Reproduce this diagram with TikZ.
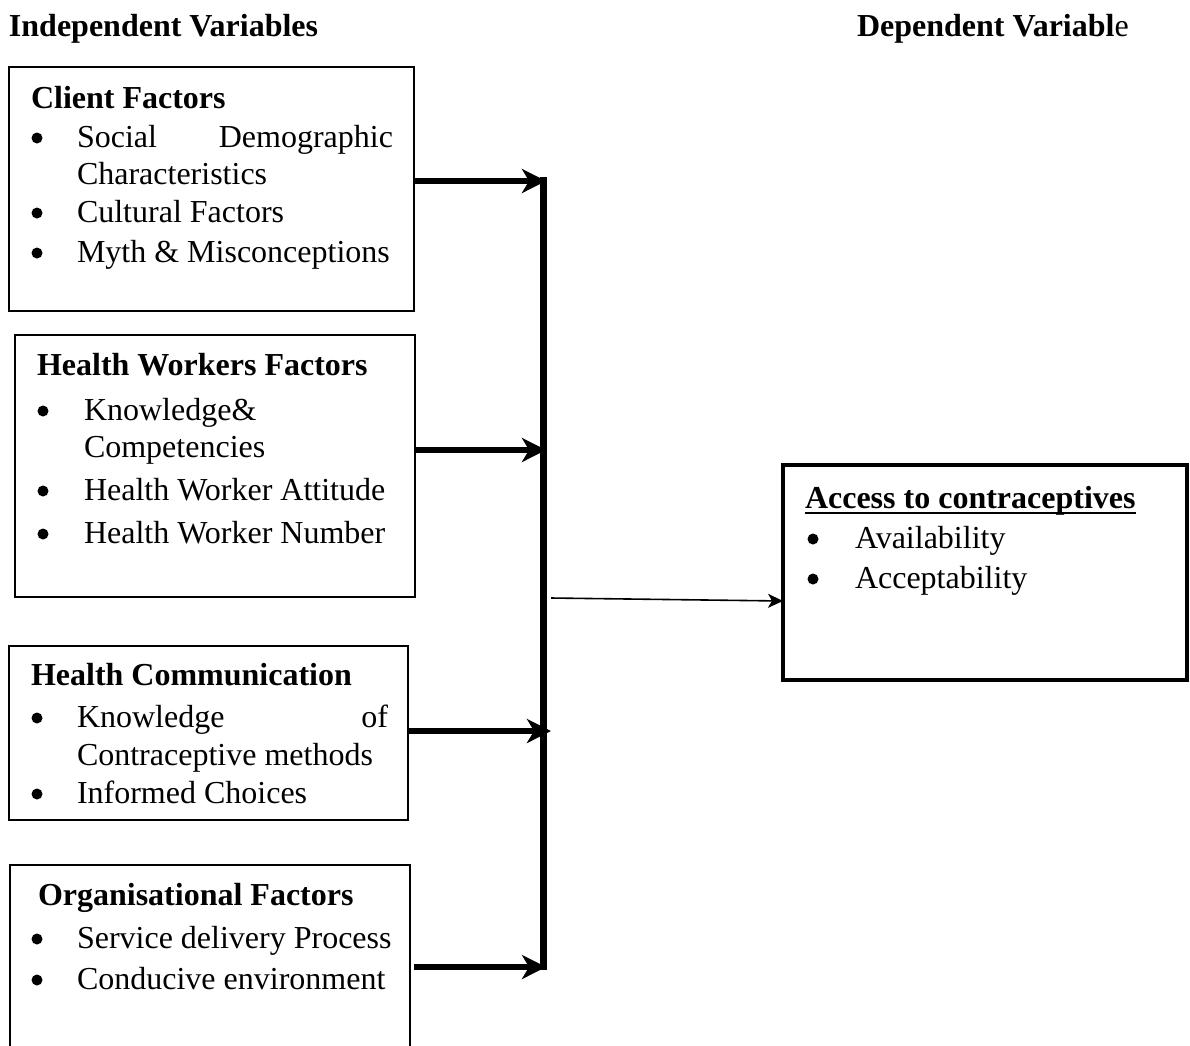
\documentclass[tikz,border=0pt]{standalone}
\usepackage{fontspec}
\setmainfont{Liberation Serif}
\usetikzlibrary{arrows.meta}
\begin{document}
\begin{tikzpicture}[x=1pt,y=-1pt,
  every node/.style={inner sep=0pt,outer sep=0pt,font=\fontsize{32}{38}\selectfont},
  hdr/.style={anchor=base west,font=\fontsize{32}{38}\selectfont\bfseries},
  ttl/.style={anchor=base west,font=\fontsize{32}{38}\selectfont\bfseries},
  itm/.style={anchor=base west},
  itmr/.style={anchor=base east},
  bul/.style={circle,fill=black,minimum size=11pt,yshift=9pt},
  fbox/.style={draw,line width=1.4pt,anchor=north west},
  dbox/.style={draw,line width=4pt,anchor=north west},
  thick arrow/.style={line width=6.5pt,-{Stealth[length=24pt,width=24pt,inset=7pt]}},
  trunk/.style={line width=7pt},
  thin arrow/.style={line width=1.6pt,-{Stealth[length=15pt,width=14pt,inset=4pt]}}
]
\useasboundingbox (0,0) rectangle (1190,1045);

% headers
\node[hdr] (hind) at (9,36) {Independent Variables};
\node[hdr] (hdep) at (857,36) {Dependent Variabl\mdseries e};

% boxes
\node[fbox,minimum width=405pt,minimum height=244pt] (b1) at (9,67) {};
\node[fbox,minimum width=400pt,minimum height=262pt] (b2) at (15,335) {};
\node[fbox,minimum width=399pt,minimum height=174pt] (b3) at (9,646) {};
\node[fbox,minimum width=400pt,minimum height=190pt] (b4) at (10,865) {};
\node[dbox,minimum width=404pt,minimum height=215pt] (bd) at (783,465) {};

% box 1 text
\node[ttl] (t1) at (31,108) {Client Factors};
\node[bul] (b1a) at (37,147) {};
\node[itm] (b1a1) at (77,147) {Social};
\node[itmr] (b1a2) at (393,147) {Demographic};
\node[itm] (b1a3) at (77,184) {Characteristics};
\node[bul] (b1b) at (37,222) {};
\node[itm] (b1b1) at (77,222) {Cultural Factors};
\node[bul] (b1c) at (37,262) {};
\node[itm] (b1c1) at (77,262) {Myth \& Misconceptions};

% box 2 text
\node[ttl] (t2) at (37,375) {Health Workers Factors};
\node[bul] (b2a) at (43,420) {};
\node[itm] (b2a1) at (84,420) {Knowledge\&};
\node[itm] (b2a2) at (84,457) {Competencies};
\node[bul] (b2b) at (43,500) {};
\node[itm] (b2b1) at (84,500) {Health Worker Attitude};
\node[bul] (b2c) at (43,543) {};
\node[itm] (b2c1) at (84,543) {Health Worker Number};

% box 3 text
\node[ttl] (t3) at (31,685) {Health Communication};
\node[bul] (b3a) at (37,727) {};
\node[itm] (b3a1) at (77,727) {Knowledge};
\node[itmr] (b3a2) at (388,727) {of};
\node[itm] (b3a3) at (77,765) {Contraceptive methods};
\node[bul] (b3b) at (37,803) {};
\node[itm] (b3b1) at (77,803) {Informed Choices};

% box 4 text
\node[ttl] (t4) at (38,905) {Organisational Factors};
\node[bul] (b4a) at (37,948) {};
\node[itm] (b4a1) at (77,948) {Service delivery Process};
\node[bul] (b4b) at (37,989) {};
\node[itm] (b4b1) at (77,989) {Conducive environment};

% dependent box text
\node[ttl] (td) at (805,508) {Access to contraceptives};
\draw[line width=2.2pt] ([yshift=-5pt]td.base west) -- ([yshift=-5pt]td.base east);
\node[bul] (bda) at (813,548) {};
\node[itm] (bda1) at (855,548) {Availability};
\node[bul] (bdb) at (813,588) {};
\node[itm] (bdb1) at (855,588) {Acceptability};

% connectors
\coordinate (top) at (543,177);
\coordinate (bot) at (543,970);
\coordinate (j1) at (546,181);
\coordinate (j2) at (546,450);
\coordinate (j3) at (551,731);
\coordinate (j4) at (546,967);
\coordinate (src) at (551,598);
\draw[trunk] (top) -- (bot);
\draw[thick arrow] (b1.east |- j1) -- (j1);
\draw[thick arrow] (b2.east |- j2) -- (j2);
\draw[thick arrow] (b3.east |- j3) -- (j3);
\draw[thick arrow] ([xshift=4pt]b4.east |- j4) -- (j4);
\draw[thin arrow] (src) -- (bd.west |- 0,601);
\end{tikzpicture}
\end{document}
